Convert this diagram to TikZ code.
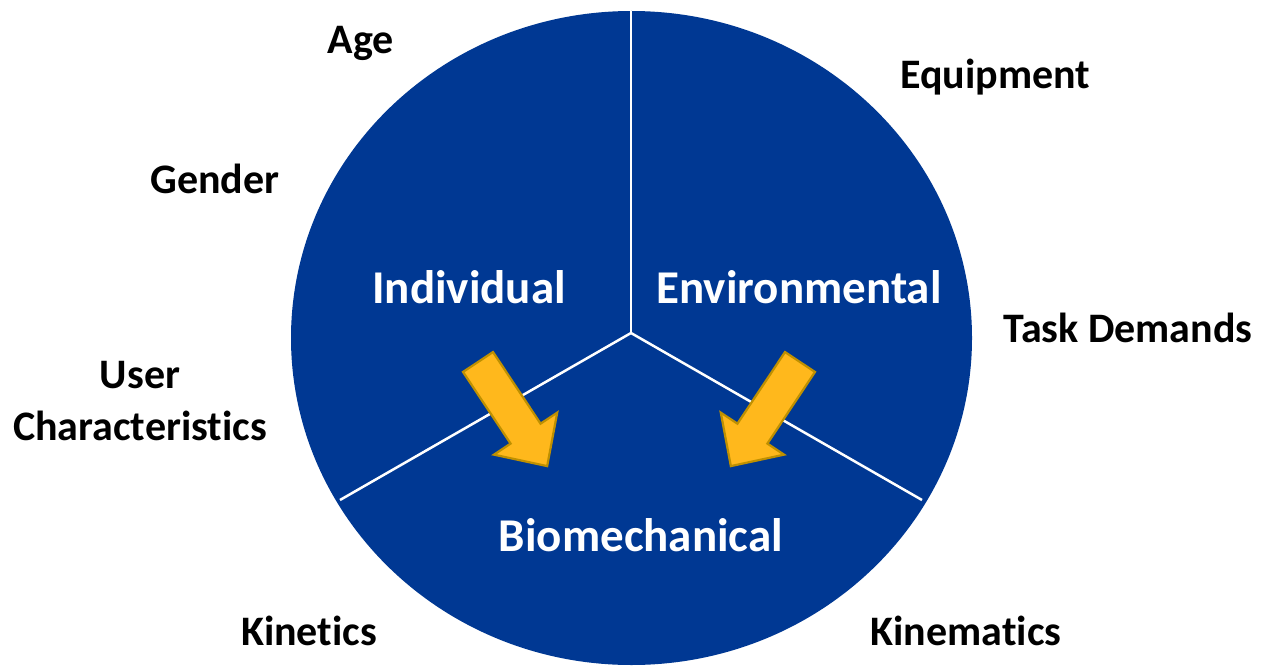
\documentclass[tikz,border=0pt]{standalone}
\usepackage{fontspec}
\setmainfont[Ligatures=NoCommon]{Carlito}
\definecolor{pieblue}{RGB}{0,56,147}
\definecolor{arrowfill}{RGB}{255,184,28}
\definecolor{arrowline}{RGB}{191,144,0}
\tikzset{
  outer/.style={font=\bfseries\fontsize{42}{52}\selectfont, align=center, inner sep=0pt},
  inner/.style={font=\bfseries\fontsize{47}{56}\selectfont, text=white, inner sep=0pt},
  divider/.style={white, line width=2.5pt},
  bigarrow/.pic={
    \draw[arrowline, fill=arrowfill, line width=2.2pt, line join=miter]
      (0,-18) -- (86,-18) -- (86,-38) -- (125,0) -- (86,38) -- (86,18) -- (0,18) -- cycle;
  }
}
\begin{document}
\begin{tikzpicture}[x=1pt,y=-1pt]
  \useasboundingbox (0,0) rectangle (1263,666);
  % the three parts
  \fill[pieblue] (631.5,338) ellipse [x radius=340.5, y radius=327];
  \coordinate (hub) at (631,333);
  \coordinate (top) at (631,11);
  \coordinate (lowleft) at (340,500);
  \coordinate (lowright) at (922,500);
  \draw[divider] (hub) -- (top);
  \draw[divider] (hub) -- (lowleft);
  \draw[divider] (hub) -- (lowright);
  % arrows into the lower part
  \pic[rotate=-56.4] at (478,362) {bigarrow};
  \pic[rotate=-123.6] at (800,362) {bigarrow};
  % labels inside
  \node[inner] (individual) at (469,287) {Individual};
  \node[inner] (environmental) at (799,287) {Environmental};
  \node[inner] (biomechanical) at (641,535) {Biomechanical};
  % labels outside
  \node[outer] (age) at (361,43) {Age};
  \node[outer] (gender) at (215,179) {Gender};
  \node[outer] (user) at (140,401) {User\\Characteristics};
  \node[outer] (equipment) at (995,77) {Equipment};
  \node[outer] (task) at (1128,328) {Task Demands};
  \node[outer] (kinetics) at (309,631) {Kinetics};
  \node[outer] (kinematics) at (966,631) {Kinematics};
\end{tikzpicture}
\end{document}
